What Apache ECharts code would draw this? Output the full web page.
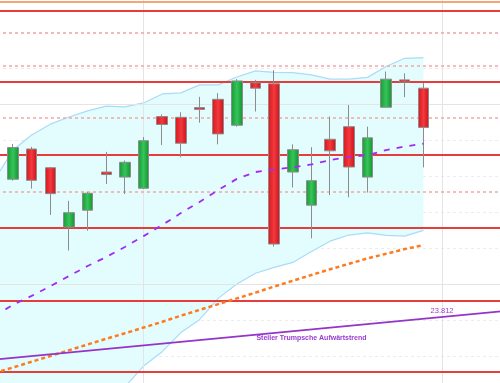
<!DOCTYPE html>
<html>
<head>
<meta charset="utf-8">
<script src="https://cdn.jsdelivr.net/npm/echarts@6/dist/echarts.min.js"></script>
<style>
html,body{margin:0;padding:0;background:#fff;width:500px;height:383px;overflow:hidden;position:relative;}
#c{position:absolute;left:-15.2px;top:-4px;width:541.4px;height:396px;}
</style>
</head>
<body>
<div id="c"></div>
<script>
// Hourly categories (session start marks at index 8 and 24)
const categories = [
  'Mo 15:00','Mo 16:00','Mo 17:00','Mo 18:00','Mo 19:00','Mo 20:00','Mo 21:00','Mo 22:00',
  'Di 07:00','Di 08:00','Di 09:00','Di 10:00','Di 11:00','Di 12:00','Di 13:00','Di 14:00',
  'Di 15:00','Di 16:00','Di 17:00','Di 18:00','Di 19:00','Di 20:00','Di 21:00','Di 22:00',
  'Mi 07:00','Mi 08:00','Mi 09:00','Mi 10:00','Mi 11:00'
];
// [open, close, low, high]
const opens  = [24164,24191,24275,24223,24058,24105,24211,24197,24166,24365,24363,24390,24413,24341,24459,24456,24211,24119,24302,24337,24197,24391,24467,24444];
const closes = [24211,24279,24188,24151,24098,24152,24204,24238,24298,24343,24291,24385,24317,24464,24444,24011,24273,24187,24270,24225,24306,24469,24461,24335];
const lows   = [24160,24187,24165,24092,23993,24048,24178,24150,24164,24286,24252,24348,24288,24337,24379,24004,24168,24027,24147,24141,24154,24390,24419,24224];
const highs  = [24215,24289,24281,24225,24131,24156,24267,24243,24308,24371,24377,24420,24430,24469,24467,24494,24288,24280,24365,24397,24337,24490,24485,24458];
// Bollinger bands
const bbUpper  = [24189,24272,24314,24344,24364,24381,24394,24392,24403,24428,24431,24453,24453,24475,24492,24488,24487,24481,24469,24469,24474,24504,24527,24529];
const bbMiddle = [23811,23842,23867,23894,23922,23950,23975,24003,24033,24064,24097,24128,24161,24192,24211,24218,24224,24232,24244,24253,24258,24272,24282,24290];
const bbLower  = [23433,23411,23420,23444,23481,23519,23556,23614,23672,23712,23765,23801,23860,23900,23930,23946,23960,23990,24019,24036,24042,24035,24033,24049];
// slower moving average (orange dotted)
const maSlow = [23653,23668,23684,23700,23716,23732,23748,23763,23779,23795,23812,23828,23844,23860,23876,23893,23909,23925,23941,23956,23971,23984,23997,24008];
// trend line endpoints [categoryIndex, value]
const trendPoints = [[0, 23690], [28, 23828]];
const trendValueLabel = '23.812';
const trendValueIndex = 24;
const trendText = 'Steiler Trumpsche Aufwärtstrend';
const trendTextIndex = 17;
// horizontal levels
const topLevels = [24684];
const solidLevels = [24658, 24461, 24258, 24056, 23854, 23656];
const dashedLevels = [24597, 24506, 24361, 24156];
const majorGrid = [23900, 24400];
const sessionMarks = [8, 24];

const candleData = opens.map((o, i) => [o, closes[i], lows[i], highs[i]]);
const bandSpan = bbUpper.map((u, i) => u - bbLower[i]);
const trendAt = idx => trendPoints[0][1] + (trendPoints[1][1] - trendPoints[0][1]) * (idx - trendPoints[0][0]) / (trendPoints[1][0] - trendPoints[0][0]);

const chart = echarts.init(document.getElementById('c'));
const hLine = (vals, color, width, type, z) => ({
  type: 'line', data: [], z: z, silent: true,
  markLine: {
    silent: true, symbol: ['none', 'none'], animation: false,
    label: {show: false},
    lineStyle: {color: color, width: width, type: type},
    data: vals.map(v => ({yAxis: v}))
  }
});

chart.setOption({
  animation: false,
  backgroundColor: '#ffffff',
  grid: {left: 0, right: 0, top: 0, bottom: 0},
  xAxis: {
    type: 'category', data: categories, boundaryGap: true,
    axisLine: {show: false}, axisTick: {show: false}, axisLabel: {show: false},
    splitLine: {show: false}
  },
  yAxis: {
    type: 'value', min: 23600, max: 24700, interval: 100,
    axisLine: {show: false}, axisTick: {show: false}, axisLabel: {show: false},
    splitLine: {show: true, lineStyle: {color: '#ececec', type: [3, 3], width: 1}}
  },
  series: [
    // major grid + session verticals
    {
      type: 'line', data: [], z: 1, silent: true,
      markLine: {
        silent: true, symbol: ['none', 'none'], animation: false, label: {show: false},
        lineStyle: {color: '#e4e4e4', width: 1, type: 'solid'},
        data: majorGrid.map(v => ({yAxis: v})).concat(sessionMarks.map(i => ({xAxis: categories[i]})))
      }
    },
    // Bollinger fill
    {type: 'line', data: bbLower, stack: 'bb', symbol: 'none', lineStyle: {opacity: 0}, z: 2, silent: true},
    {type: 'line', data: bandSpan, stack: 'bb', symbol: 'none', lineStyle: {opacity: 0},
      areaStyle: {color: '#e3fcfe', opacity: 1}, z: 2, silent: true},
    {type: 'line', data: bbUpper, symbol: 'none', lineStyle: {color: '#a9dcf8', width: 1.2}, z: 3, silent: true},
    {type: 'line', data: bbLower, symbol: 'none', lineStyle: {color: '#a9dcf8', width: 1.2}, z: 3, silent: true},
    // candles
    {
      type: 'candlestick', data: candleData, barWidth: 11, z: 5,
      itemStyle: {
        color: {type: 'linear', x: 0, y: 0, x2: 1, y2: 0, colorStops: [
          {offset: 0, color: '#159a33'}, {offset: 0.5, color: '#36c45a'}, {offset: 1, color: '#12902d'}]},
        color0: {type: 'linear', x: 0, y: 0, x2: 1, y2: 0, colorStops: [
          {offset: 0, color: '#d8141c'}, {offset: 0.5, color: '#f23a3e'}, {offset: 1, color: '#cc1018'}]},
        borderColor: '#8c8c8c', borderColor0: '#8c8c8c', borderWidth: 1
      }
    },
    // horizontal levels
    hLine(topLevels, '#f7a478', 2, 'solid', 6),
    hLine(dashedLevels, '#f4a7a7', 1.5, [3, 3], 6),
    hLine(solidLevels, '#e63c3c', 2, 'solid', 7),
    // averages
    {type: 'line', data: maSlow, symbol: 'none', z: 8, silent: true,
      lineStyle: {color: '#ff7a1e', width: 2.5, type: [4, 3]}},
    {type: 'line', data: bbMiddle, symbol: 'none', z: 8, silent: true,
      lineStyle: {color: '#a02cf4', width: 1.8, type: [6, 7]}},
    // trend line
    {
      type: 'line', data: trendPoints.map(p => [categories[p[0]], p[1]]), symbol: 'none', z: 9, silent: true,
      lineStyle: {color: '#9434c8', width: 1.6},
      markPoint: {
        silent: true, symbol: 'circle', symbolSize: 0, animation: false,
        data: [
          {coord: [categories[trendValueIndex], trendAt(trendValueIndex)],
            label: {show: true, formatter: trendValueLabel, position: 'top', distance: 2,
              color: '#9a3bd0', fontSize: 7.5, fontFamily: 'Liberation Sans', fontWeight: 'normal'}},
          {coord: [categories[trendTextIndex], trendAt(trendTextIndex)],
            label: {show: true, formatter: trendText, position: 'bottom', distance: 5,
              color: '#9a3bd0', fontSize: 7, fontFamily: 'Liberation Sans', fontWeight: 'bold'}}
        ]
      }
    }
  ]
});
</script>
</body>
</html>
